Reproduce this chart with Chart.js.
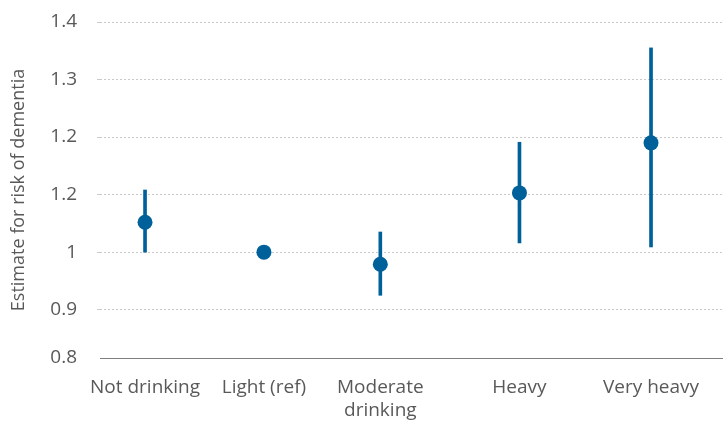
<!DOCTYPE html>
<html lang="en">
<head>
    <meta charset="UTF-8">
    <title>Estimate for risk of dementia</title>
    <script src="https://cdn.jsdelivr.net/npm/chart.js"></script>
    <style>
        html, body { margin: 0; padding: 0; background: #fff; }
        #wrap { width: 723px; height: 423px; }
    </style>
</head>
<body>
    <div id="wrap"><canvas id="chart"></canvas></div>

    <script>
        // categories and their positions along the x axis
        const categories = ['Not drinking', 'Light (ref)', ['Moderate', 'drinking'], 'Heavy', 'Very heavy'];
        const catPos = [1, 1.94, 2.86, 3.96, 5];

        // estimates and confidence limits (Light is the reference, no interval)
        const estimates = [1.052, 1.0, 0.979, 1.103, 1.19];
        const lower = [1.0, null, 0.925, 1.016, 1.009];
        const upper = [1.108, null, 1.035, 1.191, 1.355];

        // y tick positions and the labels printed beside them
        const yTickValues = [0.816, 0.9, 1.0, 1.1, 1.2, 1.3, 1.4];
        const yTickLabels = ['0.8', '0.9', '1', '1.2', '1.2', '1.3', '1.4'];

        const blue = '#00609a';
        const textColor = '#595959';

        const errorData = [];
        catPos.forEach((x, i) => {
            if (lower[i] != null) errorData.push({ x: x, y: [lower[i], upper[i]] });
        });
        const pointData = catPos.map((x, i) => ({ x: x, y: estimates[i] }));

        const ctx = document.getElementById('chart').getContext('2d');
        new Chart(ctx, {
            type: 'bar',
            data: {
                datasets: [
                    {
                        type: 'line',
                        label: 'Estimate',
                        data: pointData,
                        showLine: false,
                        pointRadius: 7.5,
                        pointHoverRadius: 7.5,
                        pointBackgroundColor: blue,
                        pointBorderWidth: 0,
                        borderColor: blue,
                        order: 0
                    },
                    {
                        type: 'bar',
                        label: 'Interval',
                        data: errorData,
                        backgroundColor: blue,
                        borderWidth: 0,
                        barThickness: 3,
                        order: 1
                    }
                ]
            },
            options: {
                responsive: true,
                maintainAspectRatio: false,
                animation: false,
                layout: {
                    autoPadding: false,
                    padding: { top: 22, right: 0, left: 0, bottom: 0 }
                },
                plugins: {
                    legend: { display: false },
                    tooltip: { enabled: false }
                },
                scales: {
                    x: {
                        type: 'linear',
                        offset: false,
                        min: 0.644,
                        max: 5.569,
                        afterBuildTicks: (scale) => {
                            scale.ticks = catPos.map(v => ({ value: v }));
                        },
                        afterFit: (scale) => {
                            scale.height = 65;
                            scale.paddingLeft = 0;
                            scale.paddingRight = 0;
                        },
                        ticks: {
                            autoSkip: false,
                            maxRotation: 0,
                            padding: 18,
                            color: textColor,
                            font: { family: 'Open Sans', size: 19 },
                            callback: (value) => categories[catPos.indexOf(value)]
                        },
                        grid: { display: false, offset: false, drawTicks: false },
                        border: { display: true, color: '#7f7f7f', width: 1 }
                    },
                    y: {
                        min: 0.816,
                        max: 1.4,
                        afterBuildTicks: (scale) => {
                            scale.ticks = yTickValues.map(v => ({ value: v }));
                        },
                        afterFit: (scale) => {
                            scale.width = 100;
                            scale.paddingTop = 0;
                            scale.paddingBottom = 0;
                        },
                        ticks: {
                            padding: 20,
                            color: textColor,
                            font: { family: 'Open Sans', size: 19 },
                            callback: (value, index) => yTickLabels[index]
                        },
                        grid: {
                            color: (c) => c.index === 0 ? 'rgba(0,0,0,0)' : '#c9c9c9',
                            lineWidth: 1,
                            tickLength: 3
                        },
                        border: { display: false, dash: [2, 2] },
                        title: {
                            display: true,
                            text: 'Estimate for risk of dementia',
                            color: textColor,
                            font: { family: 'Open Sans', size: 18 },
                            padding: { top: 8, bottom: 0 }
                        }
                    }
                }
            }
        });
    </script>
</body>
</html>
